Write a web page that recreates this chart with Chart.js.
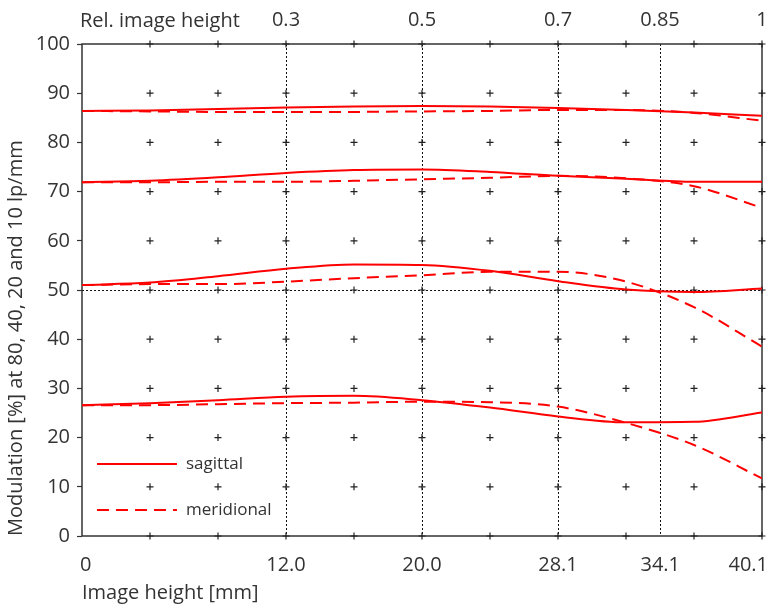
<!DOCTYPE html>
<html>
<head>
<meta charset="utf-8">
<script src="https://cdn.jsdelivr.net/npm/chart.js@4.4.0/dist/chart.umd.min.js"></script>
<style>
  html, body { margin: 0; padding: 0; background: #fff; }
</style>
</head>
<body>
<canvas id="mtf" width="770" height="605"></canvas>
<script>
"use strict";

// image height in mm (sampled every 0.1 of relative image height)
const imageHeightMm = [0, 4.01, 8.02, 12.03, 16.04, 20.05, 24.06, 28.07, 32.08, 36.09, 40.1];

// modulation in % at 10, 20, 40, 80 lp/mm
const sagittal10 = [86.4, 86.5, 86.8, 87.1, 87.3, 87.4, 87.3, 87.0, 86.6, 86.1, 85.4];
const meridional10 = [86.4, 86.3, 86.2, 86.2, 86.2, 86.3, 86.4, 86.6, 86.6, 86.0, 84.4];
const sagittal20 = [71.9, 72.2, 72.9, 73.8, 74.4, 74.5, 74.0, 73.2, 72.6, 72.0, 72.0];
const meridional20 = [71.9, 71.9, 72.0, 72.0, 72.2, 72.5, 72.8, 73.2, 72.7, 71.1, 66.7];
const sagittal40 = [51.0, 51.5, 52.8, 54.3, 55.2, 55.1, 53.9, 51.8, 50.1, 49.6, 50.3];
const meridional40 = [51.0, 51.2, 51.2, 51.7, 52.4, 53.0, 53.7, 53.7, 51.7, 46.5, 38.5];
const sagittal80 = [26.6, 27.0, 27.6, 28.3, 28.5, 27.6, 26.1, 24.3, 23.1, 23.2, 25.1];
const meridional80 = [26.6, 26.6, 26.8, 27.0, 27.1, 27.3, 27.2, 26.3, 23.0, 18.5, 11.7];

// axes
const bottomTickValues = [0, 12.03, 20.05, 28.07, 34.1, 40.1];
const bottomTickLabels = ["0", "12.0", "20.0", "28.1", "34.1", "40.1"];
const relTickValues = [0.3, 0.5, 0.7, 0.85, 1];
const relTickLabels = ["0.3", "0.5", "0.7", "0.85", "1"];
const crossRelSteps = [0.1, 0.2, 0.3, 0.4, 0.5, 0.6, 0.7, 0.8, 0.9, 1];
const crossModulation = [0, 10, 20, 30, 40, 50, 60, 70, 80, 90, 100];
const legendLabels = ["sagittal", "meridional"];

const maxHeightMm = 40.1;
const fontFamily = "'Open Sans', 'Noto Sans', sans-serif";
const textColor = "#333";
const red = "#ff0000";
const dashed = [12, 7];

function toPoints(values) {
  const points = [];
  for (let i = 0; i < values.length; i++) {
    points.push({ x: imageHeightMm[i], y: values[i] });
  }
  return points;
}

function curve(values, dash) {
  return {
    data: toPoints(values),
    borderColor: red,
    borderWidth: 2,
    borderDash: dash,
    pointRadius: 0,
    cubicInterpolationMode: "monotone",
    fill: false,
  };
}

const crossPoints = [];
for (let i = 0; i < crossRelSteps.length; i++) {
  for (let j = 0; j < crossModulation.length; j++) {
    crossPoints.push({ x: crossRelSteps[i] * maxHeightMm, y: crossModulation[j] });
  }
}

const datasets = [
  curve(sagittal10, []),
  curve(meridional10, dashed),
  curve(sagittal20, []),
  curve(meridional20, dashed),
  curve(sagittal40, []),
  curve(meridional40, dashed),
  curve(sagittal80, []),
  curve(meridional80, dashed),
  {
    data: crossPoints,
    showLine: false,
    pointStyle: "cross",
    pointRadius: 3.5,
    pointBorderColor: "#222",
    pointBorderWidth: 1.2,
    clip: false,
  },
];

// frame, dotted guide lines, legend and the "Rel. image height" caption
const decorations = {
  id: "decorations",
  beforeDraw(chart) {
    // keep the outermost x labels inside the canvas
    const ctx = chart.ctx;
    const minX = chart.chartArea.left - 2;
    const maxX = chart.width - 2;
    ctx.save();
    ["x", "x2"].forEach((id) => {
      const items = chart.scales[id].getLabelItems();
      items.forEach((item) => {
        ctx.font = item.font.string;
        const half = ctx.measureText(item.label).width / 2;
        const t = item.options.translation;
        t[0] = Math.min(Math.max(t[0], minX + half), maxX - half);
      });
    });
    ctx.restore();
  },
  beforeDatasetsDraw(chart) {
    const ctx = chart.ctx;
    const area = chart.chartArea;
    const x = chart.scales.x;
    const y = chart.scales.y;
    ctx.save();
    ctx.strokeStyle = "#111";
    ctx.lineWidth = 1;
    ctx.setLineDash([2, 2]);
    for (let i = 0; i < relTickValues.length - 1; i++) {
      const px = Math.round(x.getPixelForValue(relTickValues[i] * maxHeightMm)) + 0.5;
      ctx.beginPath();
      ctx.moveTo(px, area.top);
      ctx.lineTo(px, area.bottom);
      ctx.stroke();
    }
    const py = Math.round(y.getPixelForValue(50)) + 0.5;
    ctx.beginPath();
    ctx.moveTo(area.left, py);
    ctx.lineTo(area.right, py);
    ctx.stroke();
    ctx.setLineDash([]);
    ctx.strokeStyle = "#333";
    ctx.lineWidth = 1.5;
    ctx.strokeRect(area.left, area.top, area.right - area.left, area.bottom - area.top);
    ctx.restore();
  },
  afterDraw(chart) {
    const ctx = chart.ctx;
    const area = chart.chartArea;
    ctx.save();
    ctx.font = "20px " + fontFamily;
    ctx.fillStyle = textColor;
    ctx.textBaseline = "middle";
    ctx.textAlign = "left";
    ctx.fillText("Rel. image height", area.left - 2, 21);

    ctx.font = "17px " + fontFamily;
    const rows = [464, 510];
    for (let i = 0; i < legendLabels.length; i++) {
      const ds = chart.data.datasets[i];
      ctx.strokeStyle = ds.borderColor;
      ctx.lineWidth = ds.borderWidth;
      ctx.setLineDash(ds.borderDash);
      ctx.beginPath();
      ctx.moveTo(area.left + 15, rows[i]);
      ctx.lineTo(area.left + 95, rows[i]);
      ctx.stroke();
      ctx.setLineDash([]);
      ctx.fillText(legendLabels[i], area.left + 104, rows[i]);
    }
    ctx.restore();
  },
};

const mtfChart = new Chart(document.getElementById("mtf"), {
  type: "line",
  data: { datasets },
  plugins: [decorations],
  options: {
    responsive: false,
    animation: false,
    devicePixelRatio: 1,
    layout: { padding: { left: 0, right: 8, top: 0, bottom: 0 } },
    plugins: {
      legend: { display: false },
      tooltip: { enabled: false },
    },
    scales: {
      x: {
        type: "linear",
        position: "bottom",
        min: 0,
        max: maxHeightMm,
        afterBuildTicks: (scale) => {
          scale.ticks = bottomTickValues.map((v) => ({ value: v }));
        },
        afterFit: (scale) => {
          scale.height = 69;
          scale.paddingLeft = 0;
          scale.paddingRight = 0;
        },
        ticks: {
          autoSkip: false,
          maxRotation: 0,
          padding: 9,
          color: textColor,
          font: { family: fontFamily, size: 20 },
          callback: (value, index) => bottomTickLabels[index],
        },
        grid: { display: false },
        border: { display: false },
        title: {
          display: true,
          text: "Image height [mm]",
          align: "start",
          color: textColor,
          font: { family: fontFamily, size: 20 },
          padding: { top: 0, bottom: 0 },
        },
      },
      x2: {
        type: "linear",
        position: "top",
        min: 0,
        max: maxHeightMm,
        afterBuildTicks: (scale) => {
          scale.ticks = relTickValues.map((v) => ({ value: v * maxHeightMm }));
        },
        afterFit: (scale) => {
          scale.height = 44;
          scale.paddingLeft = 0;
          scale.paddingRight = 0;
        },
        ticks: {
          autoSkip: false,
          maxRotation: 0,
          padding: 4,
          color: textColor,
          font: { family: fontFamily, size: 20 },
          callback: (value, index) => relTickLabels[index],
        },
        grid: { display: false },
        border: { display: false },
      },
      y: {
        min: 0,
        max: 100,
        afterFit: (scale) => {
          scale.width = 82;
        },
        ticks: {
          stepSize: 10,
          padding: 7,
          color: textColor,
          font: { family: fontFamily, size: 20 },
        },
        grid: {
          drawOnChartArea: false,
          tickLength: 5,
          tickColor: "#333",
          tickWidth: 1.2,
        },
        border: { display: false },
        title: {
          display: true,
          text: "Modulation [%] at 80, 40, 20 and 10 lp/mm",
          align: "start",
          color: textColor,
          font: { family: fontFamily, size: 20 },
          padding: { top: 4, bottom: 2 },
        },
      },
    },
  },
});
</script>
</body>
</html>
